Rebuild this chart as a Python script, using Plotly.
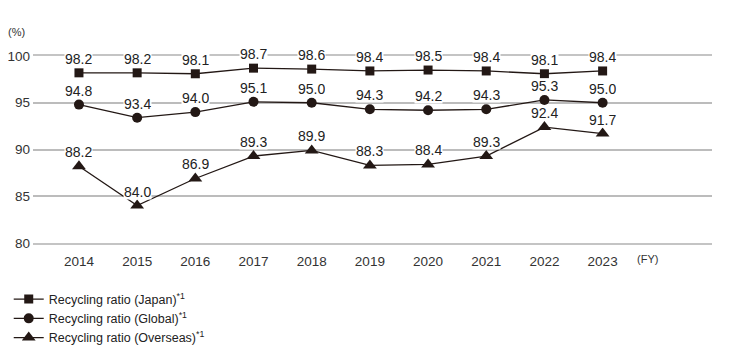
import plotly.graph_objects as go

years = [2014, 2015, 2016, 2017, 2018, 2019, 2020, 2021, 2022, 2023]
japan = [98.2, 98.2, 98.1, 98.7, 98.6, 98.4, 98.5, 98.4, 98.1, 98.4]
global_ = [94.8, 93.4, 94.0, 95.1, 95.0, 94.3, 94.2, 94.3, 95.3, 95.0]
overseas = [88.2, 84.0, 86.9, 89.3, 89.9, 88.3, 88.4, 89.3, 92.4, 91.7]
names = ["Recycling ratio (Japan)<sup>*1</sup>",
         "Recycling ratio (Global)<sup>*1</sup>",
         "Recycling ratio (Overseas)<sup>*1</sup>"]
yticks = [80, 85, 90, 95, 100]

LC = "#231815"
FONT = "Liberation Sans, Arial, sans-serif"

fig = go.Figure()
series = [(japan, "square", 9), (global_, "circle", 10), (overseas, "triangle-up", 12)]
for (vals, sym, sz), nm in zip(series, names):
    fig.add_trace(go.Scatter(x=years, y=vals, mode="lines+markers", name=nm,
                             line=dict(color=LC, width=1.3),
                             marker=dict(symbol=sym, size=sz, color=LC),
                             cliponaxis=False))
    for x, v in zip(years, vals):
        fig.add_annotation(x=x, y=v, text=f"{v:.1f}", showarrow=False, yshift=14,
                           bgcolor="white", borderpad=0, height=14,
                           font=dict(size=14, color="#222", family=FONT))

fig.add_annotation(x=2023.55, y=80, text="(FY)", showarrow=False, yshift=-16,
                   xanchor="left", font=dict(size=11, color="#333", family=FONT))
fig.add_annotation(xref="paper", x=0, y=100, text="(%)", showarrow=False,
                   yshift=24, xshift=-6, xanchor="right",
                   font=dict(size=11, color="#333", family=FONT))

fig.update_layout(
    width=730, height=360,
    margin=dict(l=25, r=26, t=48, b=125, autoexpand=False),
    plot_bgcolor="white", paper_bgcolor="white",
    font=dict(family=FONT, color="#333"),
    showlegend=True,
    legend=dict(xref="container", yref="container", x=0.001, y=0.232,
                xanchor="left", yanchor="top", font=dict(size=12.5, color="#222"),
                itemwidth=30, tracegroupgap=0, bgcolor="rgba(0,0,0,0)"),
    xaxis=dict(range=[2013.21, 2024.88], tickvals=years, ticks="", showgrid=False,
               zeroline=False, showline=True, mirror=True, linecolor="#c4c4c4",
               linewidth=2, tickfont=dict(size=13.5, color="#333"),
               ticklabelstandoff=5),
    yaxis=dict(range=[80, 100], tickvals=yticks, ticks="", showgrid=True,
               gridcolor="#bcbcbc", gridwidth=2, zeroline=False, showline=False,
               tickfont=dict(size=13.5, color="#333"), ticklabelstandoff=2),
)
fig.write_html("out.html")
